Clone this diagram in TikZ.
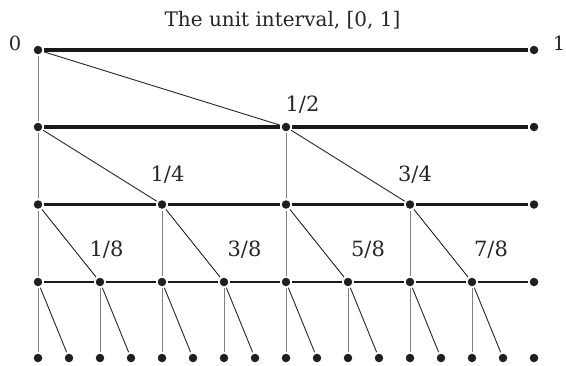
\documentclass[tikz,border=0pt]{standalone}
\usepackage{fontspec}
\setmainfont{DejaVu Serif}
\begin{document}
\begin{tikzpicture}[x=1pt,y=-1pt,
  dot/.style={circle,fill=black!88,inner sep=0pt,minimum size=8.5pt,outer sep=2pt},
  hline/.style={line width=3.5pt,black!90},
  hthin/.style={line width=2.8pt,black!90},
  vline/.style={line width=1pt,black!50},
  dline/.style={line width=0.9pt,black!85},
  lab/.style={font=\fontsize{21}{24}\selectfont,anchor=base,inner sep=0pt,text=black!85},
  titlelab/.style={font=\fontsize{20}{24}\selectfont,anchor=base,inner sep=0pt,text=black!85},
  endlab/.style={font=\fontsize{19.5}{22}\selectfont,anchor=base,inner sep=0pt,text=black!85}]
\useasboundingbox (0,0) rectangle (566,365);
% dots
\foreach \L/\y/\s in {0/50/16,1/127/8,2/204.5/4,3/282/2,4/358/1}{
  \foreach \k in {0,...,16}{
    \pgfmathtruncatemacro{\r}{mod(\k,\s)}
    \ifnum\r=0 \node[dot] (n\L-\k) at ({38+31*\k},\y) {};\fi
  }
}
% horizontal segments
\foreach \L/\s/\st in {0/16/hline,1/8/hline,2/4/hline,3/2/hthin}{
  \foreach \k in {0,...,15}{
    \pgfmathtruncatemacro{\r}{mod(\k,\s)}
    \pgfmathtruncatemacro{\nx}{\k+\s}
    \ifnum\r=0 \draw[\st] (n\L-\k) -- (n\L-\nx);\fi
  }
}
% connectors
\foreach \L/\s in {0/16,1/8,2/4,3/2}{
  \foreach \k in {0,...,15}{
    \pgfmathtruncatemacro{\r}{mod(\k,\s)}
    \pgfmathtruncatemacro{\h}{\k+\s/2}
    \pgfmathtruncatemacro{\M}{\L+1}
    \ifnum\r=0
      \draw[vline] (n\L-\k) -- (n\M-\k);
      \draw[dline] (n\L-\k) -- (n\M-\h);
    \fi
  }
}
% labels
\node[titlelab] (title) at (282.5,26) {The unit interval, [0, 1]};
\node[endlab] (l0) at (15,50) {0};
\node[endlab] (l1) at (559,50) {1};
\node[lab] (f12) at (302.5,111) {1/2};
\node[lab] (f14) at (167.5,181.5) {1/4};
\node[lab] (f34) at (415,181.5) {3/4};
\node[lab] (f18) at (106.5,256) {1/8};
\node[lab] (f38) at (244.5,256) {3/8};
\node[lab] (f58) at (368,256) {5/8};
\node[lab] (f78) at (491,256) {7/8};
\end{tikzpicture}
\end{document}
